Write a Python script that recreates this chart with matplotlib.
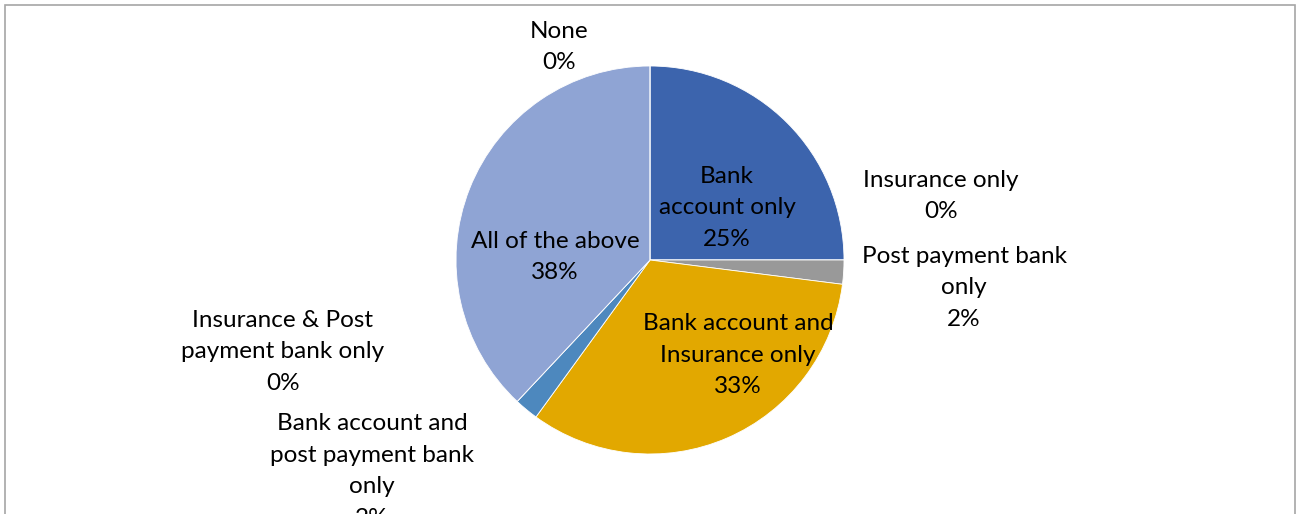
import matplotlib
matplotlib.use("Agg")
import matplotlib.pyplot as plt
from matplotlib.patches import Rectangle

plt.rcParams["font.family"] = ["Lato", "DejaVu Sans"]

W, H = 1300, 514

categories = [
    "Bank\naccount only",
    "Insurance only",
    "Post payment bank\nonly",
    "Bank account and\nInsurance only",
    "Bank account and\npost payment bank\nonly",
    "Insurance & Post\npayment bank only",
    "All of the above",
    "None",
]
shares = [25, 0, 2, 33, 2, 0, 38, 0]
colors = ["#3c64ad", "#ed7d31", "#999999", "#e2a800",
          "#4d88be", "#6fa33f", "#8fa4d4", "#264478"]

# label centres in pixel space (x from left, y from top)
label_pos = [
    (727, 208), (941, 196), (964, 288), (738, 355),
    (372, 471), (283, 352), (555, 257), (559, 47),
]

fig = plt.figure(figsize=(W / 100, H / 100), dpi=100)
ax = fig.add_axes([0, 0, 1, 1])

cx, cy, r = 650, H - 260, 194
ax.pie(shares, colors=colors, startangle=90, counterclock=False,
       center=(cx, cy), radius=r, frame=True,
       wedgeprops=dict(edgecolor="white", linewidth=0.6))
ax.set_xlim(0, W)
ax.set_ylim(0, H)
ax.set_aspect("auto")
ax.axis("off")

for name, val, (x, y) in zip(categories, shares, label_pos):
    ax.text(x, H - y, f"{name}\n{val}%", ha="center", va="center",
            fontsize=17.5, color="#000000", linespacing=1.63)

fig.patches.append(Rectangle((5 / W, -0.1), (W - 10) / W, 1.1 - 5 / H,
                             transform=fig.transFigure, fill=False,
                             edgecolor="#a6a6a6", linewidth=1.2))

fig.savefig("out.png", dpi=100)
